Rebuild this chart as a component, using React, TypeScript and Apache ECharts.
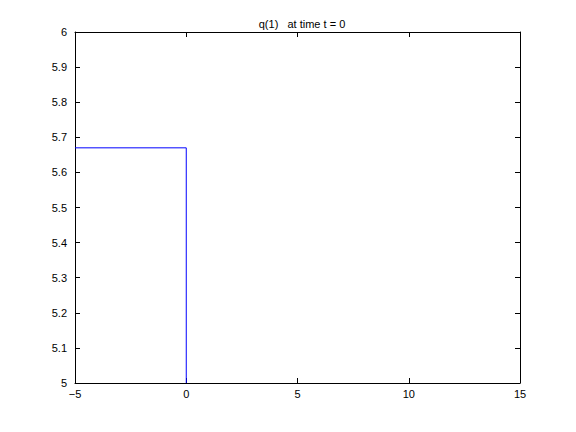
import React, { useEffect, useRef } from "react";
import * as echarts from "echarts";

const xValues = [-5, 0, 0];
const yValues = [5.67, 5.67, 5];
const titleText = "q(1)   at time t = 0";

export default function App() {
  const ref = useRef<HTMLDivElement>(null);
  useEffect(() => {
    const chart = echarts.init(ref.current!, null, { renderer: "svg" });
    const axisCommon = {
      axisLine: { show: true, onZero: false, lineStyle: { color: "#000", width: 1 } },
      axisTick: { show: true, inside: true, length: 5, lineStyle: { color: "#000" } },
      splitLine: { show: false },
    };
    const labelStyle = { color: "#000", fontFamily: "Liberation Sans, Arial, sans-serif", fontSize: 11 };
    chart.setOption({
      animation: false,
      backgroundColor: "#fff",
      title: {
        text: titleText,
        left: 297,
        top: 13,
        textAlign: "center",
        textStyle: { fontSize: 11, fontWeight: "normal", color: "#000", fontFamily: "Liberation Sans, Arial, sans-serif" },
      },
      grid: { left: 75, right: 56, top: 32, bottom: 49, containLabel: false },
      xAxis: [
        {
          type: "value", min: -5, max: 15, interval: 5, position: "bottom",
          ...axisCommon,
          axisLabel: { ...labelStyle, margin: 5, formatter: (v: number) => String(v).replace("-", "\u2212") },
        },
        {
          type: "value", min: -5, max: 15, interval: 5, position: "top",
          ...axisCommon,
          axisLabel: { show: false },
        },
      ],
      yAxis: [
        {
          type: "value", min: 5, max: 6, interval: 0.1, position: "left",
          ...axisCommon,
          axisLabel: { ...labelStyle, margin: 8, formatter: (v: number) => (Math.abs(v - Math.round(v)) < 1e-9 ? String(Math.round(v)) : v.toFixed(1)) },
        },
        {
          type: "value", min: 5, max: 6, interval: 0.1, position: "right",
          ...axisCommon,
          axisLabel: { show: false },
        },
      ],
      series: [
        {
          type: "line",
          data: xValues.map((x, i) => [x, yValues[i]]),
          showSymbol: false,
          symbol: "none",
          lineStyle: { color: "#0000ff", width: 1 },
          xAxisIndex: 0,
          yAxisIndex: 0,
        },
      ],
    });
    return () => chart.dispose();
  }, []);
  return <div ref={ref} style={{ position: "absolute", left: 0, top: 0, width: 576, height: 432 }} />;
}
